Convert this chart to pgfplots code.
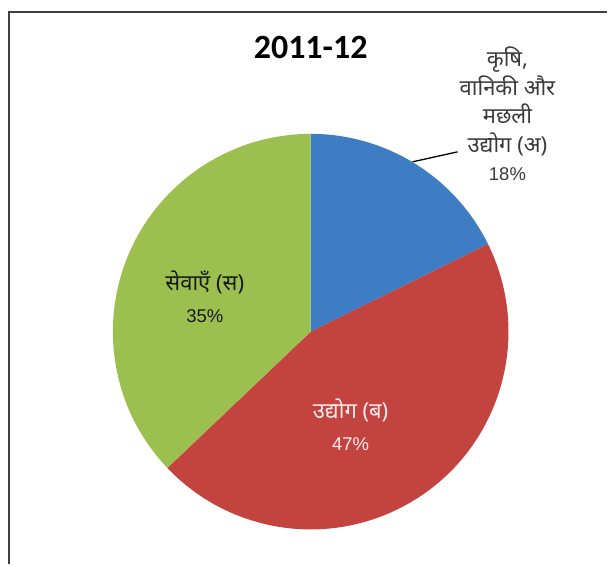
\documentclass[border=0pt]{standalone}
\usepackage{pgfplots}
\usepackage{pgfplotstable}
\pgfplotsset{compat=1.18}
\usepackage{fontspec}
\setmainfont{Liberation Sans}
\newfontfamily\deva[Script=Devanagari]{Noto Sans}
\newfontfamily\titlefont{Carlito}

\definecolor{agri}{HTML}{3E7CC4}
\definecolor{ind}{HTML}{C3443F}
\definecolor{serv}{HTML}{9CC04F}
\definecolor{labelgray}{HTML}{3A3A3A}

% slice sizes as drawn (labels show the rounded shares)
\pgfplotstableread{
sector share
agri   17.7
ind    45.2
serv   37.1
}\sharetable

\pgfplotstablegetelem{0}{share}\of\sharetable \let\sa\pgfplotsretval
\pgfplotstablegetelem{1}{share}\of\sharetable \let\sb\pgfplotsretval
\pgfplotstablegetelem{2}{share}\of\sharetable \let\sc\pgfplotsretval
\pgfmathsetmacro{\aA}{90}
\pgfmathsetmacro{\aB}{\aA-3.6*\sa}
\pgfmathsetmacro{\aC}{\aB-3.6*\sb}
\pgfmathsetmacro{\aD}{\aC-3.6*\sc}

\newcommand{\dv}[1]{{\deva\fontsize{22}{22}\selectfont #1}}

\begin{document}
\begin{tikzpicture}
\begin{axis}[
    width=608pt, height=565pt,
    scale only axis,
    xmin=0, xmax=608, ymin=0, ymax=565,
    hide axis,
    clip=false,
]
% keep the whole canvas in the bounding box
\path (axis cs:0,0) rectangle (axis cs:608,565);
% frame
\draw[black!75, line width=1.3pt] (axis cs:9,0) -- (axis cs:9,553) -- (axis cs:608,553);

% slices
\fill[agri] (axis cs:311,233) -- ++(\aA:198pt) arc[start angle=\aA, end angle=\aB, radius=198pt] -- cycle;
\fill[ind]  (axis cs:311,233) -- ++(\aB:198pt) arc[start angle=\aB, end angle=\aC, radius=198pt] -- cycle;
\fill[serv] (axis cs:311,233) -- ++(\aC:198pt) arc[start angle=\aC, end angle=\aD, radius=198pt] -- cycle;

% title
\node[font=\titlefont\bfseries\fontsize{34}{40}\selectfont] at (axis cs:311,517) {2011-12};

% labels
\draw[black, line width=1.3pt] (axis cs:413,403) -- (axis cs:458,413);
\node[align=center, text=labelgray, font=\fontsize{18.5}{28.5}\selectfont]
    at (axis cs:508,451) {\dv{कृषि,}\\\dv{वानिकी और}\\\dv{मछली}\\\dv{उद्योग (अ)}\\18\%};
\node[align=center, text=black!90, font=\fontsize{18.5}{32}\selectfont]
    at (axis cs:205,268) {\dv{सेवाएँ (स)}\\35\%};
\node[align=center, text=red!8, font=\fontsize{18.5}{32}\selectfont]
    at (axis cs:351,140) {\dv{उद्योग (ब)}\\47\%};
\end{axis}
\end{tikzpicture}
\end{document}
